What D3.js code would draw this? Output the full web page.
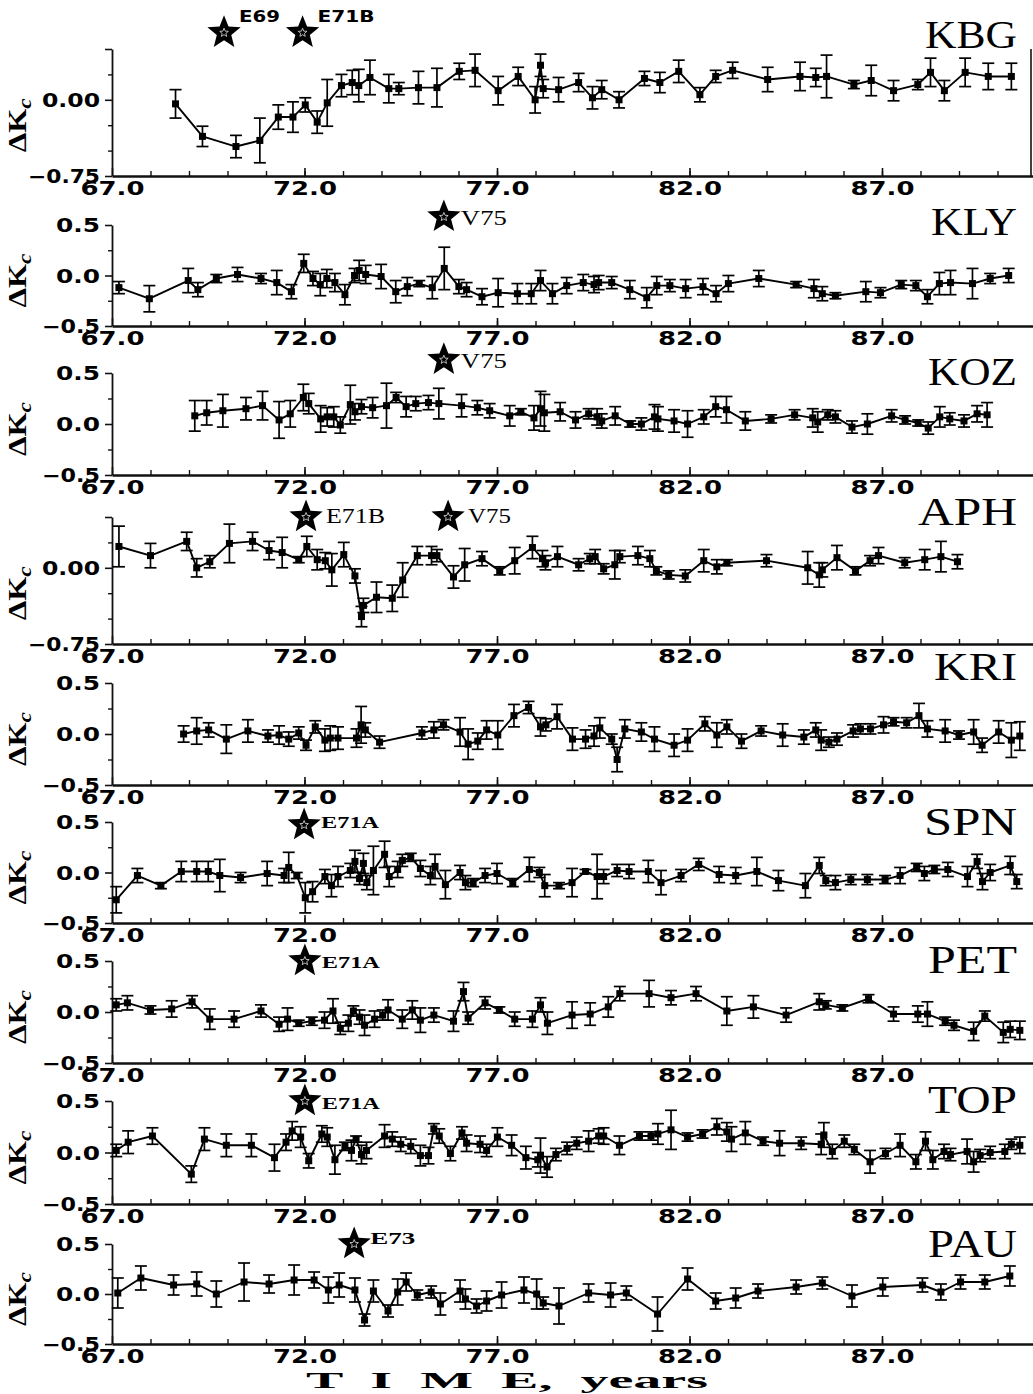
<!DOCTYPE html>
<html><head><meta charset="utf-8">
<script src="https://cdn.jsdelivr.net/npm/d3@7"></script>
<style>body{margin:0;background:#fff}svg{display:block}</style>
</head><body><svg id="chart" width="1033" height="1394"></svg>
<script>
// ---------- DATA: [year, ΔKc, error] ----------
const stations = ["KBG","KLY","KOZ","APH","KRI","SPN","PET","TOP","PAU"];
const xMajorTicks = [67, 72, 77, 82, 87];
const yTicksWide = [0, -0.75];
const yTicksNarrow = [0.5, 0, -0.5];
const axisTitle = "T  I  M  E,  years";
const yTitle = "ΔK";
const yTitleSub = "c";

const KBG = [[68.65,-0.04,0.14],[69.35,-0.36,0.10],[70.22,-0.46,0.11],[70.84,-0.40,0.22],[71.32,-0.17,0.12],[71.70,-0.17,0.15],[72.02,-0.05,0.07],[72.33,-0.22,0.11],[72.59,-0.03,0.23],[72.96,0.14,0.11],[73.24,0.17,0.12],[73.41,0.14,0.16],[73.70,0.22,0.17],[74.19,0.11,0.14],[74.45,0.11,0.06],[74.96,0.12,0.16],[75.44,0.12,0.19],[76.02,0.28,0.08],[76.43,0.29,0.16],[77.03,0.09,0.14],[77.55,0.23,0.09],[77.99,0.00,0.13],[78.13,0.34,0.11],[78.20,0.11,0.09],[78.60,0.10,0.12],[79.12,0.17,0.09],[79.48,0.02,0.11],[79.72,0.10,0.09],[80.17,0.00,0.08],[80.83,0.21,0.07],[81.23,0.17,0.10],[81.72,0.28,0.11],[82.27,0.05,0.07],[82.68,0.23,0.06],[83.12,0.29,0.08],[84.03,0.20,0.12],[84.87,0.23,0.14],[85.28,0.22,0.09],[85.56,0.23,0.21],[86.27,0.15,0.04],[86.72,0.19,0.15],[87.30,0.09,0.10],[87.93,0.15,0.05],[88.26,0.27,0.14],[88.62,0.09,0.10],[89.16,0.27,0.14],[89.76,0.23,0.13],[90.36,0.23,0.13]];

const KLY = [[67.18,-0.12,0.06],[67.97,-0.23,0.13],[68.98,-0.05,0.12],[69.23,-0.14,0.07],[69.71,-0.03,0.04],[70.26,0.01,0.07],[70.87,-0.03,0.05],[71.28,-0.07,0.12],[71.66,-0.16,0.07],[71.98,0.12,0.09],[72.22,-0.03,0.07],[72.41,-0.09,0.11],[72.58,-0.03,0.09],[72.79,-0.07,0.09],[73.05,-0.19,0.10],[73.30,0.00,0.07],[73.42,0.05,0.10],[73.59,0.01,0.09],[73.99,-0.01,0.12],[74.37,-0.16,0.11],[74.67,-0.11,0.09],[74.98,-0.08,0.03],[75.32,-0.12,0.11],[75.63,0.07,0.21],[76.01,-0.11,0.07],[76.21,-0.14,0.07],[76.61,-0.21,0.08],[77.03,-0.17,0.14],[77.53,-0.18,0.10],[77.89,-0.18,0.10],[78.13,-0.05,0.10],[78.44,-0.18,0.10],[78.81,-0.10,0.08],[79.24,-0.07,0.08],[79.52,-0.09,0.08],[79.64,-0.07,0.07],[79.98,-0.07,0.06],[80.45,-0.14,0.09],[80.89,-0.22,0.10],[81.15,-0.10,0.09],[81.49,-0.10,0.06],[81.90,-0.13,0.09],[82.35,-0.11,0.08],[82.69,-0.18,0.08],[83.01,-0.08,0.08],[83.80,-0.03,0.08],[84.77,-0.09,0.03],[85.23,-0.13,0.09],[85.45,-0.18,0.07],[85.79,-0.20,0.03],[86.58,-0.16,0.10],[86.96,-0.17,0.05],[87.50,-0.09,0.04],[87.88,-0.10,0.05],[88.18,-0.21,0.07],[88.49,-0.08,0.11],[88.78,-0.07,0.12],[89.35,-0.08,0.15],[89.81,-0.03,0.05],[90.29,0.00,0.07]];

const KOZ = [[69.15,0.08,0.15],[69.46,0.11,0.12],[69.88,0.13,0.16],[70.48,0.15,0.11],[70.91,0.18,0.14],[71.34,0.04,0.18],[71.63,0.10,0.13],[71.97,0.26,0.13],[72.11,0.20,0.10],[72.42,0.05,0.13],[72.59,0.07,0.09],[72.76,0.07,0.10],[72.93,-0.01,0.08],[73.19,0.19,0.19],[73.31,0.12,0.08],[73.48,0.17,0.07],[73.77,0.16,0.10],[74.13,0.18,0.22],[74.38,0.26,0.05],[74.64,0.17,0.10],[74.89,0.20,0.07],[75.22,0.21,0.07],[75.49,0.20,0.15],[76.08,0.18,0.11],[76.49,0.16,0.07],[76.81,0.13,0.07],[77.33,0.08,0.10],[77.62,0.12,0.03],[77.96,0.06,0.12],[78.13,0.15,0.17],[78.23,0.11,0.18],[78.64,0.12,0.09],[79.04,0.04,0.08],[79.38,0.10,0.05],[79.60,0.07,0.08],[79.72,0.03,0.07],[80.07,0.08,0.09],[80.46,0.00,0.03],[80.75,0.00,0.06],[81.09,0.07,0.12],[81.18,0.05,0.12],[81.60,0.03,0.11],[81.95,0.00,0.13],[82.37,0.07,0.07],[82.68,0.17,0.10],[82.96,0.14,0.13],[83.45,0.03,0.09],[84.12,0.05,0.04],[84.73,0.09,0.05],[85.20,0.06,0.09],[85.33,0.02,0.10],[85.59,0.09,0.05],[85.79,0.07,0.06],[86.22,-0.03,0.06],[86.62,0.00,0.10],[87.25,0.08,0.06],[87.60,0.04,0.04],[87.94,0.01,0.03],[88.20,-0.04,0.06],[88.50,0.07,0.10],[88.76,0.05,0.06],[89.13,0.03,0.06],[89.47,0.10,0.08],[89.73,0.09,0.12]];

const APH = [[67.18,0.21,0.20],[68.00,0.12,0.12],[68.94,0.26,0.09],[69.20,0.00,0.09],[69.54,0.06,0.06],[70.05,0.24,0.19],[70.65,0.26,0.09],[71.08,0.17,0.09],[71.42,0.15,0.15],[71.85,0.08,0.03],[72.06,0.21,0.10],[72.33,0.08,0.10],[72.54,0.07,0.08],[72.71,-0.02,0.16],[73.02,0.13,0.12],[73.31,-0.08,0.07],[73.48,-0.48,0.10],[73.53,-0.37,0.07],[73.87,-0.29,0.15],[74.28,-0.30,0.13],[74.55,-0.12,0.17],[74.93,0.12,0.09],[75.30,0.12,0.09],[75.44,0.12,0.06],[75.87,-0.09,0.11],[76.16,0.03,0.16],[76.61,0.09,0.07],[77.07,-0.03,0.04],[77.46,0.07,0.13],[77.92,0.20,0.11],[78.18,0.09,0.08],[78.26,0.05,0.07],[78.57,0.11,0.10],[79.12,0.03,0.06],[79.41,0.09,0.05],[79.55,0.11,0.07],[79.77,-0.01,0.05],[80.06,0.03,0.14],[80.19,0.11,0.06],[80.66,0.12,0.09],[80.97,0.09,0.08],[81.14,-0.03,0.04],[81.46,-0.07,0.04],[81.89,-0.08,0.06],[82.37,0.07,0.11],[82.71,0.01,0.07],[82.97,0.05,0.03],[84.00,0.07,0.06],[85.07,0.00,0.16],[85.37,-0.07,0.12],[85.45,-0.02,0.07],[85.83,0.10,0.12],[86.31,-0.03,0.04],[86.69,0.07,0.05],[86.91,0.12,0.08],[87.59,0.05,0.05],[88.11,0.08,0.10],[88.53,0.11,0.15],[88.96,0.06,0.07]];

const KRI = [[68.86,0.00,0.08],[69.20,0.03,0.13],[69.51,0.04,0.07],[69.97,-0.05,0.14],[70.53,0.03,0.11],[71.05,-0.02,0.06],[71.34,-0.01,0.09],[71.59,-0.05,0.07],[71.85,0.01,0.06],[72.04,-0.11,0.05],[72.28,0.07,0.06],[72.53,-0.06,0.11],[72.67,-0.04,0.12],[72.87,-0.04,0.11],[73.35,-0.04,0.09],[73.47,0.09,0.18],[73.58,0.04,0.07],[73.95,-0.08,0.06],[75.05,0.01,0.06],[75.36,0.04,0.08],[75.61,0.09,0.05],[76.04,0.02,0.14],[76.25,-0.10,0.15],[76.50,-0.07,0.08],[76.73,0.04,0.09],[77.02,-0.01,0.14],[77.44,0.18,0.11],[77.82,0.26,0.06],[78.13,0.07,0.09],[78.27,0.09,0.06],[78.56,0.17,0.12],[78.96,-0.05,0.11],[79.30,-0.05,0.09],[79.52,-0.02,0.10],[79.67,0.06,0.10],[79.98,-0.05,0.05],[80.12,-0.25,0.12],[80.32,0.05,0.09],[80.75,0.02,0.09],[81.09,-0.05,0.12],[81.60,-0.11,0.11],[81.95,-0.06,0.11],[82.40,0.10,0.07],[82.71,-0.01,0.12],[82.97,0.07,0.07],[83.35,-0.07,0.07],[83.86,0.03,0.05],[84.42,-0.01,0.11],[84.97,-0.03,0.07],[85.28,0.04,0.07],[85.42,-0.06,0.10],[85.62,-0.08,0.05],[85.83,-0.05,0.06],[86.25,0.03,0.06],[86.44,0.05,0.05],[86.70,0.05,0.05],[87.04,0.09,0.08],[87.30,0.12,0.04],[87.64,0.11,0.05],[87.96,0.18,0.12],[88.18,0.05,0.08],[88.64,0.03,0.11],[89.00,-0.01,0.04],[89.38,0.02,0.12],[89.60,-0.11,0.07],[90.03,0.02,0.11],[90.36,-0.06,0.17],[90.58,-0.02,0.14]];

const SPN = [[67.11,-0.27,0.13],[67.66,-0.03,0.07],[68.27,-0.13,0.03],[68.80,0.01,0.10],[69.20,0.01,0.10],[69.50,0.01,0.10],[69.80,-0.03,0.16],[70.34,-0.05,0.05],[71.03,-0.01,0.12],[71.47,-0.03,0.07],[71.59,0.05,0.15],[71.80,-0.03,0.03],[72.02,-0.25,0.15],[72.21,-0.19,0.10],[72.53,-0.04,0.07],[72.70,-0.13,0.11],[72.87,-0.04,0.10],[73.19,0.02,0.07],[73.31,0.11,0.11],[73.43,-0.06,0.06],[73.53,0.09,0.10],[73.62,-0.10,0.07],[73.79,0.02,0.24],[74.08,0.18,0.13],[74.20,-0.04,0.10],[74.42,0.03,0.08],[74.54,0.12,0.06],[74.76,0.15,0.04],[75.01,0.04,0.08],[75.27,-0.03,0.09],[75.39,0.06,0.12],[75.66,-0.12,0.14],[76.04,0.00,0.07],[76.18,-0.10,0.07],[76.38,-0.10,0.04],[76.69,-0.03,0.07],[77.00,-0.01,0.10],[77.41,-0.10,0.04],[77.84,0.03,0.12],[78.10,0.00,0.05],[78.24,-0.13,0.11],[78.61,-0.13,0.03],[78.95,-0.10,0.14],[79.30,0.01,0.02],[79.60,-0.04,0.22],[79.77,-0.04,0.07],[80.12,0.02,0.06],[80.43,0.01,0.07],[80.93,0.01,0.11],[81.26,-0.10,0.12],[81.78,-0.03,0.06],[82.24,0.08,0.06],[82.77,-0.02,0.08],[83.20,-0.03,0.08],[83.75,0.01,0.14],[84.31,-0.08,0.10],[85.01,-0.13,0.12],[85.37,0.07,0.08],[85.54,-0.08,0.05],[85.79,-0.10,0.07],[86.19,-0.07,0.05],[86.62,-0.07,0.05],[87.08,-0.07,0.04],[87.47,-0.03,0.08],[87.90,0.05,0.04],[88.10,-0.01,0.07],[88.36,0.03,0.04],[88.71,0.03,0.07],[89.22,-0.04,0.10],[89.47,0.11,0.07],[89.61,-0.09,0.08],[89.81,0.00,0.08],[90.33,0.07,0.09],[90.50,-0.09,0.07]];

const PET = [[67.11,0.07,0.06],[67.40,0.09,0.07],[68.00,0.02,0.04],[68.55,0.03,0.08],[69.08,0.10,0.06],[69.54,-0.07,0.10],[70.17,-0.07,0.08],[70.87,0.01,0.06],[71.34,-0.12,0.07],[71.56,-0.07,0.11],[71.85,-0.11,0.03],[72.19,-0.09,0.04],[72.52,-0.08,0.08],[72.74,0.01,0.12],[72.93,-0.16,0.06],[73.14,-0.11,0.08],[73.27,0.01,0.05],[73.43,-0.05,0.07],[73.56,-0.13,0.10],[73.82,-0.07,0.08],[74.03,-0.03,0.05],[74.17,0.02,0.10],[74.54,-0.07,0.09],[74.80,0.02,0.09],[75.01,-0.08,0.12],[75.36,-0.03,0.07],[75.87,-0.09,0.10],[76.13,0.20,0.09],[76.25,-0.06,0.06],[76.69,0.09,0.06],[77.06,0.02,0.03],[77.46,-0.07,0.07],[77.92,-0.07,0.08],[78.13,0.07,0.07],[78.31,-0.11,0.11],[78.95,-0.03,0.13],[79.42,-0.02,0.11],[79.89,0.05,0.10],[80.19,0.18,0.07],[80.95,0.18,0.13],[81.52,0.14,0.07],[82.17,0.18,0.07],[82.97,0.01,0.14],[83.66,0.05,0.11],[84.51,-0.03,0.07],[85.37,0.10,0.08],[85.54,0.07,0.04],[85.97,0.04,0.03],[86.65,0.13,0.04],[87.30,-0.02,0.07],[87.93,-0.02,0.08],[88.18,-0.02,0.12],[88.64,-0.09,0.04],[88.87,-0.13,0.05],[89.38,-0.19,0.09],[89.67,-0.04,0.05],[90.15,-0.20,0.10],[90.33,-0.17,0.08],[90.58,-0.18,0.09]];

const TOP = [[67.11,0.02,0.06],[67.42,0.10,0.11],[68.05,0.16,0.08],[69.06,-0.21,0.08],[69.40,0.13,0.11],[69.97,0.07,0.11],[70.62,0.07,0.11],[71.22,-0.05,0.13],[71.52,0.10,0.08],[71.68,0.21,0.09],[71.90,0.15,0.10],[72.11,-0.08,0.07],[72.45,0.18,0.08],[72.59,0.15,0.09],[72.79,-0.07,0.14],[73.05,0.06,0.04],[73.22,0.02,0.10],[73.34,0.13,0.03],[73.48,-0.02,0.09],[73.61,0.02,0.08],[74.08,0.16,0.11],[74.28,0.13,0.07],[74.50,0.08,0.07],[74.76,0.06,0.07],[75.01,-0.03,0.10],[75.22,-0.03,0.08],[75.36,0.23,0.05],[75.50,0.16,0.07],[75.79,-0.01,0.07],[76.09,0.19,0.06],[76.21,0.09,0.08],[76.56,0.08,0.08],[76.73,0.02,0.06],[77.01,0.15,0.09],[77.38,0.07,0.10],[77.75,-0.05,0.11],[78.06,-0.07,0.07],[78.13,-0.03,0.17],[78.30,-0.14,0.10],[78.53,-0.02,0.06],[78.82,0.04,0.06],[79.07,0.09,0.06],[79.38,0.11,0.10],[79.64,0.16,0.07],[79.77,0.16,0.08],[80.18,0.07,0.09],[80.70,0.16,0.04],[81.00,0.16,0.04],[81.18,0.18,0.10],[81.52,0.22,0.19],[81.95,0.15,0.04],[82.34,0.18,0.04],[82.71,0.25,0.08],[82.97,0.20,0.09],[83.09,0.13,0.12],[83.45,0.19,0.11],[83.91,0.11,0.04],[84.34,0.09,0.12],[84.90,0.09,0.06],[85.42,0.08,0.10],[85.49,0.17,0.12],[85.71,0.01,0.07],[86.02,0.11,0.06],[86.28,0.03,0.05],[86.69,-0.09,0.11],[87.09,-0.01,0.05],[87.47,0.07,0.11],[87.88,-0.09,0.07],[88.13,0.11,0.09],[88.32,-0.07,0.09],[88.61,0.01,0.07],[88.78,-0.02,0.06],[89.21,0.01,0.12],[89.38,-0.09,0.10],[89.55,-0.03,0.06],[89.81,0.00,0.06],[90.19,0.01,0.07],[90.36,0.08,0.05],[90.58,0.07,0.08]];

const PAU = [[67.15,0.01,0.15],[67.75,0.16,0.12],[68.60,0.09,0.10],[69.20,0.10,0.12],[69.71,0.00,0.13],[70.43,0.12,0.19],[71.08,0.10,0.09],[71.73,0.14,0.15],[72.25,0.14,0.08],[72.62,0.04,0.13],[72.90,0.09,0.12],[73.31,0.04,0.12],[73.56,-0.26,0.06],[73.79,0.03,0.11],[74.17,-0.17,0.06],[74.42,0.02,0.13],[74.64,0.12,0.09],[74.93,-0.01,0.05],[75.29,0.02,0.06],[75.53,-0.10,0.11],[76.04,0.03,0.11],[76.18,-0.05,0.10],[76.47,-0.12,0.07],[76.73,-0.07,0.10],[77.12,-0.01,0.13],[77.70,0.04,0.13],[78.03,0.00,0.15],[78.20,-0.09,0.06],[78.61,-0.12,0.18],[79.38,0.01,0.09],[79.95,-0.01,0.12],[80.36,0.01,0.07],[81.17,-0.20,0.17],[81.95,0.15,0.11],[82.68,-0.07,0.08],[83.20,-0.04,0.10],[83.78,0.03,0.07],[84.77,0.07,0.07],[85.45,0.11,0.06],[86.22,-0.02,0.11],[87.02,0.07,0.09],[88.05,0.09,0.07],[88.53,0.02,0.08],[89.04,0.12,0.07],[89.67,0.12,0.07],[90.32,0.18,0.10]];

const seriesByStation = {KBG, KLY, KOZ, APH, KRI, SPN, PET, TOP, PAU};

// events marked with stars: station, label, year, level (ΔKc units)
const events = [
  {station:"KBG", label:"E69",  year:69.91, level:0.66},
  {station:"KBG", label:"E71B", year:71.95, level:0.66},
  {station:"KLY", label:"V75",  year:75.62, level:0.58},
  {station:"KOZ", label:"V75",  year:75.62, level:0.63},
  {station:"APH", label:"E71B", year:72.04, level:0.50},
  {station:"APH", label:"V75",  year:75.73, level:0.50},
  {station:"SPN", label:"E71A", year:71.99, level:0.47},
  {station:"PET", label:"E71A", year:72.01, level:0.50},
  {station:"TOP", label:"E71A", year:72.01, level:0.50},
  {station:"PAU", label:"E73",  year:73.29, level:0.50}
];

// ---------- LAYOUT (pixels / styles) ----------
const panelLayout = {
  KBG:{top:49,  bottom:176,  domain:[-0.75,0.5], nameDy:-1, nameW:92, frame:true},
  KLY:{top:225, bottom:326,  domain:[-0.5,0.5],  nameDy:10, nameW:86},
  KOZ:{top:373, bottom:475,  domain:[-0.5,0.5],  nameDy:12, nameW:89},
  APH:{top:517, bottom:644,  domain:[-0.75,0.5], nameDy:8,  nameW:99},
  KRI:{top:683, bottom:785,  domain:[-0.5,0.5],  nameDy:-3, nameW:83},
  SPN:{top:822, bottom:923,  domain:[-0.5,0.5],  nameDy:13, nameW:93},
  PET:{top:961, bottom:1063, domain:[-0.5,0.5],  nameDy:12, nameW:89},
  TOP:{top:1101,bottom:1204, domain:[-0.5,0.5],  nameDy:12, nameW:89},
  PAU:{top:1244,bottom:1344, domain:[-0.5,0.5],  nameDy:13, nameW:89}
};
const eventStyle = {
  KBG:{dx:15, dy:-11, font:"DejaVu Sans", weight:"bold", size:16, widths:{E69:41, E71B:57}},
  KLY:{dx:17, dy:8,  font:"Liberation Serif", weight:"normal", size:20, widths:{V75:46}},
  KOZ:{dx:17, dy:8,  font:"Liberation Serif", weight:"normal", size:20, widths:{V75:46}},
  APH:{dx:20, dy:6,  font:"Liberation Serif", weight:"normal", size:21, widths:{E71B:59, V75:43}},
  SPN:{dx:17, dy:3,  font:"Liberation Serif", weight:"bold", size:16, widths:{E71A:58}},
  PET:{dx:17, dy:7,  font:"Liberation Serif", weight:"bold", size:16, widths:{E71A:58}},
  TOP:{dx:17, dy:8,  font:"Liberation Serif", weight:"bold", size:16, widths:{E71A:58}},
  PAU:{dx:16, dy:0,  font:"Liberation Serif", weight:"bold", size:16, widths:{E73:45}}
};

const svg = d3.select("#chart");
const x = d3.scaleLinear().domain([67, 91]).range([112, 1036]);
const tickFont = "'DejaVu Sans', sans-serif";

function starPath(R, r) {
  const pts = [];
  for (let i = 0; i < 10; i++) {
    const a = -Math.PI / 2 + i * Math.PI / 5;
    const rad = i % 2 ? r : R;
    pts.push([rad * Math.cos(a), rad * Math.sin(a)]);
  }
  return "M" + pts.map(p => p[0].toFixed(2) + "," + p[1].toFixed(2)).join("L") + "Z";
}

stations.forEach(name => {
  const L = panelLayout[name];
  const data = seriesByStation[name];
  const y = d3.scaleLinear().domain(L.domain).range([L.bottom, L.top]);
  const wide = L.domain[0] === -0.75;
  const g = svg.append("g");

  // x axis: minor ticks (each year) pointing up
  const xMinor = g.append("g").attr("transform", `translate(0,${L.bottom})`)
    .call(d3.axisBottom(x).tickValues(d3.range(68, 91)).tickSize(-5).tickFormat(""));
  xMinor.select(".domain").remove();
  xMinor.selectAll("line").attr("stroke", "#111").attr("stroke-width", 1.4);

  const xMajor = g.append("g").attr("transform", `translate(0,${L.bottom})`)
    .call(d3.axisBottom(x).tickValues(xMajorTicks).tickSize(-8).tickSizeOuter(0).tickFormat(d3.format(".1f")));
  xMajor.select(".domain").attr("stroke", "#111").attr("stroke-width", 2.6);
  xMajor.selectAll("line").attr("stroke", "#111").attr("stroke-width", 1.6);
  xMajor.selectAll("text")
    .attr("y", 5).attr("dy", "0.73em")
    .attr("fill", "#000")
    .style("font-family", tickFont).style("font-weight", "bold").style("font-size", "19px")
    .attr("textLength", 64).attr("lengthAdjust", "spacingAndGlyphs");

  // y axis
  const yMinorVals = wide ? [0.25, -0.25, -0.5] : [0.25, -0.25];
  const yMinor = g.append("g").attr("transform", `translate(${x(67)},0)`)
    .call(d3.axisLeft(y).tickValues(yMinorVals).tickSize(4).tickFormat(""));
  yMinor.select(".domain").remove();
  yMinor.selectAll("line").attr("stroke", "#111").attr("stroke-width", 1.4);

  const yTicks = wide ? yTicksWide : yTicksNarrow;
  const yAx = g.append("g").attr("transform", `translate(${x(67)},0)`)
    .call(d3.axisLeft(y).tickValues(wide ? yTicks.concat([0.5]) : yTicks).tickSize(7).tickSizeOuter(0)
      .tickFormat(d => (wide && d === 0.5) ? "" : d3.format(wide ? ".2f" : ".1f")(d)));
  yAx.select(".domain").attr("stroke", "#111").attr("stroke-width", 1.8);
  yAx.selectAll("line").attr("stroke", "#111").attr("stroke-width", 1.6);
  yAx.selectAll("text")
    .attr("x", -12).attr("dy", "0.36em")
    .attr("fill", "#000")
    .style("font-family", tickFont).style("font-weight", "bold").style("font-size", "19px")
    .each(function(d) {
      const t = d3.select(this).text();
      if (!t) return;
      const w = t.length === 3 ? 44 : (t.length === 4 ? 58 : 72);
      d3.select(this).attr("textLength", w).attr("lengthAdjust", "spacingAndGlyphs");
    });

  if (L.frame) {
    g.append("line").attr("x1", 1031).attr("x2", 1031).attr("y1", L.top).attr("y2", L.bottom)
      .attr("stroke", "#111").attr("stroke-width", 1.6);
  }

  // y title
  const cy = wide ? y(-0.25) : y(0) + 5;
  const yt = svg.append("text")
    .attr("transform", `translate(26,${cy}) rotate(-90)`)
    .attr("text-anchor", "middle")
    .attr("textLength", 54).attr("lengthAdjust", "spacingAndGlyphs")
    .style("font-family", "'Liberation Serif', serif").style("font-weight", "bold").style("font-size", "25px")
    .attr("fill", "#000");
  yt.append("tspan").text(yTitle);
  yt.append("tspan").attr("dy", 5).style("font-size", "19px").style("font-style", "italic").text(yTitleSub);

  // station name
  svg.append("text").attr("x", 1017).attr("y", L.top + L.nameDy)
    .attr("text-anchor", "end")
    .style("font-family", "'Liberation Serif', serif").style("font-size", "41px")
    .attr("textLength", L.nameW).attr("lengthAdjust", "spacingAndGlyphs")
    .attr("fill", "#000").text(name);

  // connecting line
  const line = d3.line().x(d => x(d[0])).y(d => y(d[1]));
  g.append("path").datum(data).attr("d", line)
    .attr("fill", "none").attr("stroke", "#000").attr("stroke-width", 1.9).attr("stroke-linejoin", "round");

  // error bars
  const eb = g.append("g").attr("stroke", "#000").attr("stroke-width", 1.7);
  eb.selectAll("line.v").data(data).join("line").attr("class", "v")
    .attr("x1", d => x(d[0])).attr("x2", d => x(d[0]))
    .attr("y1", d => y(d[1] + d[2])).attr("y2", d => y(d[1] - d[2]));
  eb.selectAll("line.t").data(data).join("line").attr("class", "t")
    .attr("x1", d => x(d[0]) - 6).attr("x2", d => x(d[0]) + 6)
    .attr("y1", d => y(d[1] + d[2])).attr("y2", d => y(d[1] + d[2]));
  eb.selectAll("line.b").data(data).join("line").attr("class", "b")
    .attr("x1", d => x(d[0]) - 6).attr("x2", d => x(d[0]) + 6)
    .attr("y1", d => y(d[1] - d[2])).attr("y2", d => y(d[1] - d[2]));

  // markers
  g.selectAll("rect.m").data(data).join("rect").attr("class", "m")
    .attr("x", d => x(d[0]) - 3.5).attr("y", d => y(d[1]) - 3.5)
    .attr("width", 7).attr("height", 7).attr("fill", "#000");

  // events
  const st = eventStyle[name];
  events.filter(e => e.station === name).forEach(e => {
    const cx = x(e.year), cyy = y(e.level);
    svg.append("path").attr("d", starPath(17.5, 7.6)).attr("transform", `translate(${cx},${cyy})`).attr("fill", "#000");
    svg.append("path").attr("d", starPath(4.5, 2)).attr("transform", `translate(${cx},${cyy})`)
      .attr("fill", "none").attr("stroke", "#fff").attr("stroke-width", 0.7);
    svg.append("text").attr("x", cx + st.dx).attr("y", cyy + st.dy)
      .style("font-family", st.font).style("font-weight", st.weight).style("font-size", st.size + "px")
      .attr("textLength", st.widths[e.label]).attr("lengthAdjust", "spacingAndGlyphs")
      .attr("fill", "#000").text(e.label);
  });
});

// x-axis title
svg.append("text").attr("x", 507).attr("y", 1388).attr("text-anchor", "middle")
  .style("font-family", "'Liberation Serif', serif").style("font-weight", "bold").style("font-size", "24px")
  .style("white-space", "pre").attr("xml:space", "preserve")
  .attr("textLength", 402).attr("lengthAdjust", "spacingAndGlyphs")
  .attr("fill", "#000").text(axisTitle);
</script>
</body></html>
